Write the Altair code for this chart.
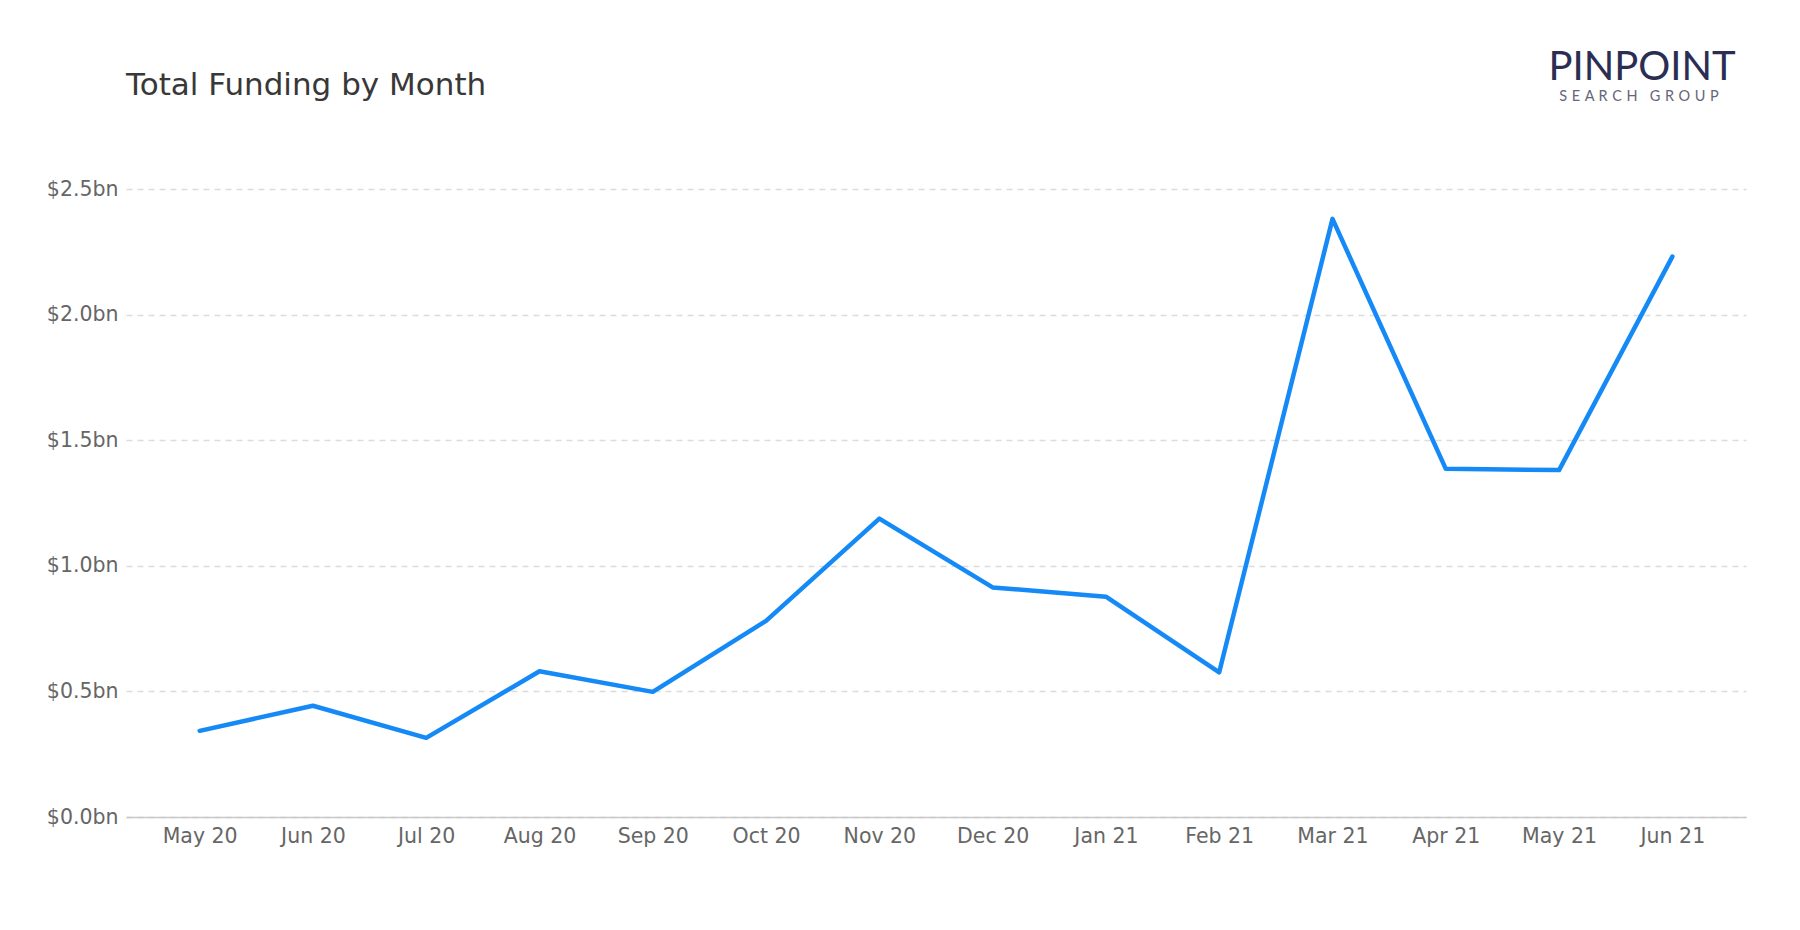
import altair as alt
import pandas as pd

months = ["May 20", "Jun 20", "Jul 20", "Aug 20", "Sep 20", "Oct 20", "Nov 20",
          "Dec 20", "Jan 21", "Feb 21", "Mar 21", "Apr 21", "May 21", "Jun 21"]
funding_bn = [0.343, 0.443, 0.315, 0.580, 0.498, 0.781, 1.188,
              0.914, 0.877, 0.576, 2.381, 1.386, 1.381, 2.231]
y_ticks = [0, 0.5, 1.0, 1.5, 2.0, 2.5]
title_text = ["Total Funding by Month"]
logo_main = ["PINPOINT"]
SP = "\u00a0\u200a"
logo_sub = [SP.join("SEARCH") + SP + "\u00a0\u00a0" + SP.join("GROUP")]

df = pd.DataFrame({"month": months, "funding": funding_bn})

FONT = "DejaVu Sans"

line = alt.Chart(df).mark_line(color="#158AF6", strokeWidth=4.5, strokeCap="round", strokeJoin="round").encode(
    x=alt.X("month:O", sort=months, title=None,
            scale=alt.Scale(type="point", padding=0.65),
            axis=alt.Axis(labelAngle=0, labelFontSize=20.5, labelColor="#666666", labelFont=FONT,
                          labelPadding=9, ticks=False, domain=True, domainColor="#c8c8c8",
                          domainWidth=1.5, grid=False)),
    y=alt.Y("funding:Q", title=None,
            scale=alt.Scale(domain=[0, 2.5], nice=False, zero=True),
            axis=alt.Axis(values=y_ticks, labelExpr="'$' + format(datum.value, '.1f') + 'bn'",
                          labelFontSize=20.5, labelColor="#666666", labelFont=FONT,
                          labelPadding=8, ticks=False, domain=False,
                          grid=True, gridColor="#dcdcdc", gridDash=[6, 5], gridWidth=1.5)),
)

title = alt.Chart(pd.DataFrame({"t": title_text})).mark_text(
    font=FONT, fontSize=31, color="#383838", align="left", baseline="alphabetic"
).encode(x=alt.value(0), y=alt.value(-94), text="t:N")

logo = alt.Chart(pd.DataFrame({"t": logo_main})).mark_text(
    font="Lato", fontSize=40, fontWeight="normal", color="#2b2d52", align="center", baseline="alphabetic"
).encode(x=alt.value(1516), y=alt.value(-109), text="t:N")

logo2 = alt.Chart(pd.DataFrame({"t": logo_sub})).mark_text(
    font="Lato", fontSize=14.5, color="#666677", align="center", baseline="alphabetic"
).encode(x=alt.value(1513), y=alt.value(-88), text="t:N")

chart = alt.layer(line, title, logo, logo2).properties(
    width=1620, height=628,
    padding={"left": 126, "top": 189, "right": 54, "bottom": 113},
    autosize=alt.AutoSizeParams(type="none"),
    background="white",
).configure_view(stroke=None)

chart.save("out.html", embed_options={"renderer": "svg", "actions": False})
